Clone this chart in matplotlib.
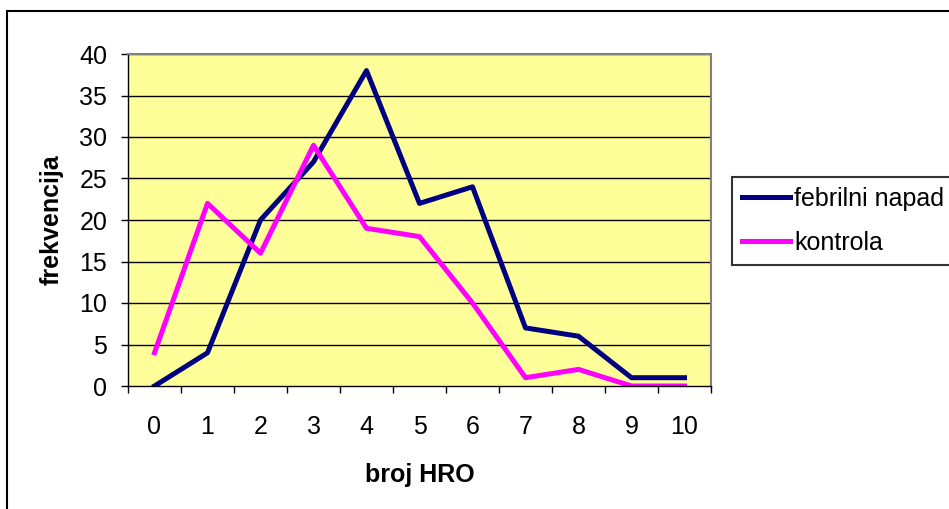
import matplotlib
matplotlib.use('Agg')
import matplotlib.pyplot as plt
from matplotlib.patches import Rectangle
from matplotlib.ticker import FixedLocator

plt.rcParams['font.family'] = ['Liberation Sans', 'DejaVu Sans']

broj_hro = [0, 1, 2, 3, 4, 5, 6, 7, 8, 9, 10]
febrilni_napad = [0, 4, 20, 27, 38, 22, 24, 7, 6, 1, 1]
kontrola = [4, 22, 16, 29, 19, 18, 10, 1, 2, 0, 0]
y_ticks = [0, 5, 10, 15, 20, 25, 30, 35, 40]

W, H = 949, 509
FS = 18
fig = plt.figure(figsize=(W / 100, H / 100), dpi=100)

# outer chart border (right and bottom fall outside the picture)
fig.patches.append(Rectangle((7 / W, -0.05), 1.1, 1 - 11 / H + 0.05, transform=fig.transFigure,
                             fill=False, edgecolor='black', linewidth=1.5))

ax = fig.add_axes([128 / W, (H - 386) / H, (711 - 128) / W, (386 - 54) / H])
ax.set_facecolor('#FFFF99')

ax.plot(broj_hro, febrilni_napad, color='#000080', linewidth=3.6, label='febrilni napad')
ax.plot(broj_hro, kontrola, color='#FF00FF', linewidth=3.6, label='kontrola')

ax.set_xlim(-0.5, 10.5)
ax.set_ylim(0, 40)
ax.set_yticks(y_ticks)
for y in y_ticks[1:]:
    ax.axhline(y, color='black', linewidth=1, zorder=1)

ax.set_xticks(broj_hro)
ax.set_xticklabels([str(i) for i in broj_hro])
ax.xaxis.set_minor_locator(FixedLocator([i - 0.5 for i in range(12)]))
ax.tick_params(axis='x', which='major', length=0, pad=21, labelsize=FS)
ax.tick_params(axis='x', which='minor', length=5, width=1, direction='out')
ax.tick_params(axis='y', length=5, width=1, direction='out', labelsize=FS, pad=10)

for side in ['top', 'right']:
    ax.spines[side].set_color('#808080')
    ax.spines[side].set_linewidth(1.5)
for side in ['left', 'bottom']:
    ax.spines[side].set_color('black')
    ax.spines[side].set_linewidth(1)

ax.set_xlabel('broj HRO', fontsize=FS, fontweight='bold', labelpad=17)
ax.set_ylabel('frekvencija', fontsize=FS, fontweight='bold', labelpad=11)

leg = ax.legend(loc='upper left', bbox_to_anchor=(732 / W, (H - 177) / H), bbox_transform=fig.transFigure,
                fontsize=FS, frameon=True, fancybox=False, handlelength=1.9, handletextpad=0.2,
                borderpad=0.4, labelspacing=0.8, borderaxespad=0)
leg.get_frame().set_edgecolor('black')
leg.get_frame().set_linewidth(1.5)

fig.savefig('out.png', dpi=100, facecolor='white')
